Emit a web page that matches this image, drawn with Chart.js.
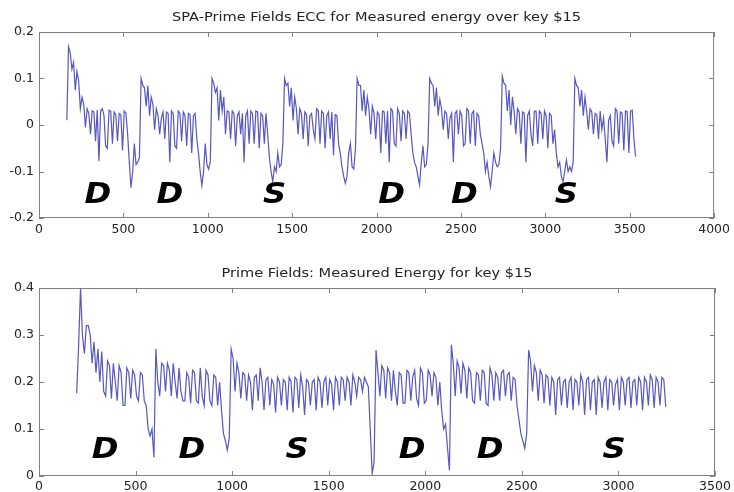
<!DOCTYPE html>
<html lang="en">

<head>
    <meta charset="UTF-8">
    <title>SPA - Prime Fields ECC</title>
    <script src="https://cdn.jsdelivr.net/npm/chart.js"></script>
    <style>
        body {
            margin: 0;
            background: #fff;
            width: 734px;
            height: 492px;
            position: relative;
            overflow: hidden;
        }

        .panel {
            position: absolute;
            left: 0;
        }
    </style>
</head>

<body>
    <div class="panel" style="top:0px"><canvas id="topChart" width="734" height="240"></canvas></div>
    <div class="panel" style="top:250px"><canvas id="bottomChart" width="734" height="242"></canvas></div>

    <script>
        // top trace: one sample every 10 units, starting at x = 165
        const topStartX = 165;
        const topStepX = 10;
        const topEnergy = [
            // segment 1
            0.01, 0.168, 0.155, 0.12, 0.135, 0.075, 0.115, 0.095, 0.035, 0.06,
            0.045, -0.005, 0.035, 0.025, -0.02, 0.03, 0.028, -0.035, 0.032, -0.078,
            0.03, 0.035, 0.02, -0.045, -0.05, 0.032, 0.03, -0.04, 0.028, 0.022,
            -0.035, 0.025, 0.022, -0.055, 0.03, 0.026, -0.02, -0.08, -0.135, -0.1,
            -0.04, -0.085, -0.08, -0.07,
            // segment 2
            0.1, 0.085, 0.08, 0.04, 0.085, 0.02, 0.06, 0.045, -0.01, 0.035,
            0.02, -0.02, 0.015, 0.028, -0.03, 0.028, 0.025, -0.08, 0.03, 0.025,
            -0.045, -0.05, 0.03, 0.025, -0.035, 0.028, 0.02, -0.045, 0.025, 0.022,
            -0.06, 0.02, 0.025, -0.03, -0.06, -0.1, -0.13, -0.1, -0.04, -0.085,
            -0.095, -0.08,
            // segment 3
            0.1, 0.09, 0.07, 0.08, 0.01, 0.075, 0.03, 0.06, -0.02, 0.03,
            0.028, -0.03, 0.03, 0.025, -0.045, 0.02, 0.028, -0.02, 0.025, -0.08,
            0.02, 0.03, -0.04, 0.03, 0.025, -0.04, 0.03, 0.028, -0.05, 0.025,
            0.02, -0.04, 0.025, -0.02, -0.07, -0.1, -0.122, -0.09, -0.1, -0.06,
            -0.09, -0.085, -0.04,
            // segment 4
            0.1, 0.085, 0.09, 0.04, 0.08, 0.01, 0.06, 0.035, -0.02, 0.035,
            0.025, -0.03, 0.028, 0.022, -0.045, 0.02, 0.025, -0.01, -0.03, 0.035,
            0.03, -0.04, 0.03, 0.025, -0.05, 0.02, 0.028, -0.03, 0.028, -0.065,
            0.022, 0.02, -0.04, -0.06, -0.09, -0.11, -0.125, -0.11, -0.06, -0.04,
            -0.09, -0.095, -0.05,
            // segment 5
            0.1, 0.085, 0.085, 0.03, 0.075, 0.02, 0.06, 0.035, -0.02, 0.04,
            0.025, -0.03, 0.028, 0.022, -0.06, 0.03, 0.028, -0.04, 0.03, -0.08,
            0.035, 0.03, -0.04, -0.045, 0.035, 0.025, -0.035, 0.03, 0.025, -0.03,
            0.03, 0.025, -0.02, -0.06, -0.08, -0.09, -0.11, -0.129, -0.08, -0.045,
            -0.09, -0.085, -0.04,
            // segment 6
            0.1, 0.09, 0.085, 0.04, 0.08, 0.02, 0.055, 0.035, -0.01, 0.03,
            0.025, -0.03, 0.015, 0.025, -0.08, 0.025, 0.03, -0.02, 0.03, 0.02,
            -0.045, -0.04, 0.035, 0.03, -0.04, 0.025, 0.03, -0.045, 0.025, 0.02,
            -0.02, -0.04, -0.06, -0.1, -0.08, -0.11, -0.133, -0.1, -0.06, -0.08,
            -0.09, -0.085, -0.05,
            // segment 7
            0.105, 0.09, 0.085, 0.03, 0.075, 0.0, 0.06, 0.03, -0.02, 0.035,
            0.028, -0.04, 0.028, 0.025, -0.08, 0.02, 0.03, -0.02, -0.045, 0.03,
            0.03, -0.04, 0.03, 0.025, -0.03, 0.03, 0.02, -0.05, 0.025, 0.02,
            -0.04, -0.01, -0.06, -0.09, -0.08, -0.11, -0.122, -0.1, -0.075, -0.1,
            -0.09, -0.1, -0.08,
            // segment 8
            0.1, 0.085, 0.08, 0.04, 0.075, 0.02, 0.06, 0.03, -0.01, 0.035,
            0.028, -0.02, 0.025, 0.022, -0.03, 0.03, -0.01, 0.015, -0.03, -0.08,
            0.01, 0.02, -0.035, -0.045, 0.035, 0.03, -0.04, 0.028, 0.025, -0.055,
            0.03, 0.028, -0.06, 0.03, 0.032, -0.03, -0.068
        ];

        // bottom trace: one sample every 10 units, starting at x = 195
        const bottomStartX = 195;
        const bottomStepX = 10;
        const bottomEnergy = [
            // D
            0.176, 0.275, 0.4, 0.3, 0.26, 0.32, 0.32, 0.3, 0.24, 0.285,
            0.22, 0.27, 0.2, 0.265, 0.18, 0.17, 0.245, 0.235, 0.165, 0.24,
            0.2, 0.16, 0.235, 0.22, 0.15, 0.15, 0.23, 0.22, 0.165, 0.225,
            0.215, 0.17, 0.16, 0.22, 0.215, 0.16, 0.15, 0.1, 0.085, 0.1,
            0.04,
            // D
            0.27, 0.2, 0.17, 0.24, 0.235, 0.18, 0.24, 0.225, 0.17, 0.24,
            0.2, 0.165, 0.23, 0.18, 0.16, 0.16, 0.22, 0.21, 0.155, 0.225,
            0.22, 0.16, 0.155, 0.23, 0.17, 0.15, 0.225, 0.215, 0.16, 0.15,
            0.215, 0.21, 0.15, 0.2, 0.14, 0.09, 0.075, 0.055, 0.08,
            // S
            0.27, 0.25, 0.18, 0.24, 0.22, 0.165, 0.22, 0.215, 0.16, 0.215,
            0.2, 0.14, 0.21, 0.215, 0.16, 0.23, 0.2, 0.14, 0.205, 0.21,
            0.15, 0.205, 0.195, 0.135, 0.21, 0.2, 0.15, 0.205, 0.2, 0.14,
            0.21, 0.2, 0.135, 0.21, 0.205, 0.145, 0.215, 0.19, 0.13, 0.205,
            0.2, 0.15, 0.2, 0.205, 0.14, 0.21, 0.2, 0.145, 0.2, 0.21,
            0.15, 0.205, 0.195, 0.14, 0.21, 0.2, 0.15, 0.21, 0.205, 0.16,
            0.21, 0.2, 0.15, 0.215, 0.2, 0.17, 0.21, 0.205, 0.18, 0.21,
            0.2, 0.19, 0.1, 0.005, 0.03,
            // D
            0.268, 0.22, 0.17, 0.235, 0.225, 0.165, 0.23, 0.22, 0.16, 0.225,
            0.18, 0.15, 0.22, 0.215, 0.155, 0.155, 0.225, 0.22, 0.16, 0.21,
            0.225, 0.165, 0.15, 0.23, 0.22, 0.155, 0.16, 0.225, 0.215, 0.17,
            0.22, 0.21, 0.15, 0.2, 0.14, 0.1, 0.11, 0.06, 0.012,
            // D
            0.279, 0.24, 0.17, 0.245, 0.23, 0.175, 0.24, 0.225, 0.165, 0.23,
            0.22, 0.16, 0.155, 0.22, 0.215, 0.16, 0.225, 0.22, 0.155, 0.15,
            0.23, 0.215, 0.16, 0.22, 0.21, 0.16, 0.22, 0.225, 0.17, 0.215,
            0.22, 0.16, 0.21, 0.205, 0.15, 0.12, 0.09, 0.075, 0.059, 0.09,
            // S
            0.268, 0.245, 0.18, 0.235, 0.22, 0.16, 0.225, 0.215, 0.155, 0.215,
            0.21, 0.15, 0.21, 0.2, 0.13, 0.205, 0.21, 0.15, 0.2, 0.205,
            0.145, 0.2, 0.21, 0.14, 0.205, 0.2, 0.15, 0.215, 0.2, 0.13,
            0.205, 0.21, 0.14, 0.2, 0.205, 0.13, 0.21, 0.2, 0.145, 0.2,
            0.21, 0.14, 0.205, 0.2, 0.15, 0.195, 0.205, 0.14, 0.21, 0.2,
            0.15, 0.205, 0.21, 0.145, 0.2, 0.205, 0.15, 0.21, 0.2, 0.14,
            0.21, 0.2, 0.15, 0.215, 0.205, 0.145, 0.21, 0.2, 0.15, 0.21,
            0.205, 0.147
        ];

        // operation labels (double / sum)
        const opLetters = ['D', 'D', 'S', 'D', 'D', 'S'];
        const topLetterX = [349, 775, 1396, 2089, 2521, 3124];
        const topLetterY = -0.152;
        const bottomLetterX = [342, 792, 1336, 1932, 2336, 2978];
        const bottomLetterY = 0.053;

        const topTitle = 'SPA-Prime Fields ECC for Measured energy over key $15';
        const bottomTitle = 'Prime Fields: Measured Energy for key $15';

        const lineColor = 'rgba(45, 45, 175, 0.8)';
        const frameColor = '#808080';
        const textColor = '#222';
        const fontFamily = '"DejaVu Sans", Arial, sans-serif';

        function toPoints(values, x0, step) {
            return values.map((v, i) => ({ x: x0 + i * step, y: v }));
        }

        // the original picture is a bit wider than tall, so text is stretched sideways
        function stretchedText(ctx, text, x, y, sx) {
            ctx.save();
            ctx.translate(x, y);
            ctx.scale(sx, 1);
            ctx.fillText(text, 0, 0);
            ctx.restore();
        }

        // matlab style box, inward ticks, title and D/S labels
        const matlabAxes = {
            id: 'matlabAxes',
            afterDraw(chart, args, opts) {
                const ctx = chart.ctx;
                const a = chart.chartArea;
                const xs = chart.scales.x;
                const ys = chart.scales.y;
                ctx.save();

                ctx.fillStyle = '#000';
                ctx.font = 'italic bold 28px ' + fontFamily;
                ctx.textAlign = 'center';
                ctx.textBaseline = 'middle';
                opts.letters.forEach((t, i) => {
                    stretchedText(ctx, t, xs.getPixelForValue(opts.letterX[i]), ys.getPixelForValue(opts.letterY), 1.15);
                });

                ctx.strokeStyle = frameColor;
                ctx.lineWidth = 1;
                ctx.strokeRect(a.left + 0.5, a.top + 0.5, a.right - a.left - 1, a.bottom - a.top - 1);

                ctx.beginPath();
                xs.ticks.forEach(t => {
                    const px = Math.round(xs.getPixelForValue(t.value)) + 0.5;
                    ctx.moveTo(px, a.top);
                    ctx.lineTo(px, a.top + 5);
                    ctx.moveTo(px, a.bottom);
                    ctx.lineTo(px, a.bottom - 5);
                });
                ys.ticks.forEach(t => {
                    const py = Math.round(ys.getPixelForValue(t.value)) + 0.5;
                    ctx.moveTo(a.left, py);
                    ctx.lineTo(a.left + 5, py);
                    ctx.moveTo(a.right, py);
                    ctx.lineTo(a.right - 5, py);
                });
                ctx.stroke();

                ctx.fillStyle = textColor;
                ctx.font = '13px ' + fontFamily;
                ctx.textBaseline = 'middle';
                stretchedText(ctx, opts.title, (a.left + a.right) / 2, opts.titleY, 1.12);

                ctx.restore();
            }
        };

        function makeChart(id, cfg) {
            return new Chart(document.getElementById(id), {
                type: 'line',
                data: {
                    datasets: [{
                        data: cfg.points,
                        borderColor: lineColor,
                        borderWidth: 1.2,
                        pointRadius: 0,
                        tension: 0,
                        fill: false
                    }]
                },
                options: {
                    responsive: false,
                    animation: false,
                    layout: { padding: { top: cfg.padTop, right: 19, left: 0, bottom: 0 } },
                    plugins: {
                        legend: { display: false },
                        tooltip: { enabled: false },
                        matlabAxes: {
                            title: cfg.title,
                            titleY: cfg.titleY,
                            letters: opLetters,
                            letterX: cfg.letterX,
                            letterY: cfg.letterY
                        }
                    },
                    scales: {
                        x: {
                            type: 'linear',
                            min: 0,
                            max: cfg.xMax,
                            afterFit: s => { s.height = cfg.xAxisHeight; },
                            grid: { display: false, drawTicks: false },
                            border: { display: false },
                            ticks: {
                                stepSize: 500,
                                autoSkip: false,
                                maxRotation: 0,
                                padding: cfg.xPad,
                                color: textColor,
                                font: { family: fontFamily, size: 12.5 },
                                callback: v => String(v)
                            }
                        },
                        y: {
                            min: cfg.yMin,
                            max: cfg.yMax,
                            afterFit: s => { s.width = 39; },
                            grid: { display: false, drawTicks: false },
                            border: { display: false },
                            ticks: {
                                stepSize: 0.1,
                                padding: 5,
                                color: textColor,
                                font: { family: fontFamily, size: 12.5 },
                                callback: v => String(Number(v.toFixed(1)))
                            }
                        }
                    }
                },
                plugins: [matlabAxes]
            });
        }

        makeChart('topChart', {
            points: toPoints(topEnergy, topStartX, topStepX),
            padTop: 32,
            xAxisHeight: 22,
            xPad: 4,
            xMax: 4000,
            yMin: -0.2,
            yMax: 0.2,
            title: topTitle,
            titleY: 17.5,
            letterX: topLetterX,
            letterY: topLetterY
        });

        makeChart('bottomChart', {
            points: toPoints(bottomEnergy, bottomStartX, bottomStepX),
            padTop: 38,
            xAxisHeight: 16,
            xPad: 3,
            xMax: 3500,
            yMin: 0,
            yMax: 0.4,
            title: bottomTitle,
            titleY: 23.5,
            letterX: bottomLetterX,
            letterY: bottomLetterY
        });
    </script>
</body>

</html>
